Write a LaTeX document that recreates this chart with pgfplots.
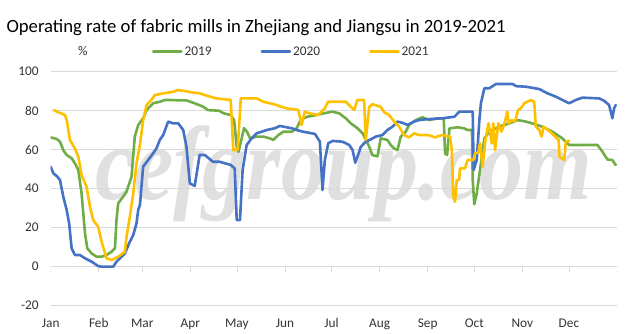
\documentclass[border=0pt]{standalone}
\usepackage{pgfplots}
\pgfplotsset{compat=1.18}
\usepackage{fontspec}
\setmainfont{Carlito}
\newfontfamily\wmfont{Liberation Serif}
\definecolor{c19}{HTML}{70AD47}
\definecolor{c20}{HTML}{4472C4}
\definecolor{c21}{HTML}{FFC000}
\definecolor{gridc}{HTML}{D9D9D9}
\definecolor{tickc}{HTML}{333333}
\definecolor{wm}{HTML}{E0E0E0}
\begin{document}
\begin{tikzpicture}[x=1pt,y=1pt]
\useasboundingbox (0,0) rectangle (643,334);
\node[anchor=base west, inner sep=0pt, text=wm] at (95,134) {\scalebox{0.84}[1]{\fontsize{105}{110}\selectfont\wmfont\bfseries\itshape cefgroup.com}};
\begin{axis}[
  at={(50.7pt,28.3pt)}, anchor=south west,
  scale only axis, width=566.3pt, height=234pt,
  xmin=0, xmax=365, ymin=-20, ymax=100,
  axis line style={draw=none},
  ytick={-20,0,20,40,60,80,100},
  ymajorgrids, grid style={gridc, line width=0.75pt},
  xtick={0,31,59,90,120,151,181,212,243,273,304,334},
  xticklabels={Jan,Feb,Mar,Apr,May,Jun,Jul,Aug,Sep,Oct,Nov,Dec},
  tick style={draw=none},
  xticklabel style={anchor=base, inner sep=0pt, yshift=-22.3pt},
  yticklabel style={anchor=east, inner sep=0pt, xshift=-11.8pt},
  ticklabel style={font=\fontsize{13.3}{15}\selectfont, text=tickc},
  /pgf/number format/assume math mode=true,
  legend columns=3,
  legend image code/.code={\draw[#1, line width=2.6pt] (0pt,0pt) -- (28pt,0pt);},
  legend style={at={(0.1789,1.0855)}, anchor=west, draw=none, fill=none,
    inner sep=0pt, outer sep=0pt, font=\fontsize{13.3}{15}\selectfont, text=tickc,
    /tikz/every odd column/.append style={column sep=2pt},
    /tikz/every even column/.append style={column sep=49pt},
    nodes={inner sep=0pt}},
  legend cell align=left,
  every axis plot/.append style={line width=2.6pt, line join=round, line cap=round},
]
\draw[gridc, line width=0.75pt] (axis cs:0,0) -- (axis cs:365,0);
\pgfplotsinvokeforeach{0,31,59,90,120,151,181,212,243,273,304,334}{
  \draw[gridc, line width=0.75pt] (axis cs:#1,0) -- ([yshift=-5pt]axis cs:#1,0);
}
\addplot[c19] coordinates {
(0,66.3) (3.9,65.5) (6,64.1) (8.1,59.8) (10.3,57.3) (13.5,55.6) (15.6,53) (17.8,49.6)
(19.9,37.6) (22.1,17.1) (23.6,9.4) (26.4,6.8) (29.6,5.1) (32.8,5.1) (36,6.0) (39.2,7.7)
(41.4,9.4) (42.4,23.9) (43.5,32.5) (46.7,35.9) (48.9,38.5) (51,43.6) (52.1,46.2) (54.2,66.7)
(56.4,72.6) (59.6,76.1) (61.8,80.3) (66,83.8) (70.3,84.6) (73.6,85.5) (76.8,85.5) (83.2,85.3)
(87.5,85.3) (92.8,83.8) (98.2,82.1) (101.4,80.3) (108.5,80) (111.7,78.6) (116,77.8) (118.2,75.2)
(119.9,61.5) (121,58.9) (123.1,65.8) (124.6,71) (126.5,69.2) (128.5,65.8) (132.8,66.7) (137.1,66.7)
(141.3,65.8) (143.5,65) (146.7,67.5) (149.9,69.2) (155.3,69.2) (158.5,71) (160.6,74.4) (162.8,76.1)
(166,77) (171.4,77.8) (175.7,78.6) (181.7,79.5) (186,78.6) (190.2,76.1) (193.4,73.5) (197.7,71)
(201,68.4) (203.1,65) (205.3,61.5) (207.4,57.2) (210.6,56.6) (212.7,65.8) (217,65) (219.2,62.4)
(221.4,60.6) (223.5,59.8) (225.6,66.7) (228.8,69.2) (231,72.7) (235.3,75.2) (239.6,76.6) (244,75.2)
(249.4,76.1) (253.3,76.1) (254.2,58.1) (255.5,57.3) (257,70.9) (262.3,71.5) (266.6,70.9) (268.7,70.1)
(271.5,70.1) (272,44.4) (273,32) (274.6,37.6) (277.3,53) (279.5,65.8) (282.7,69.2) (289.1,71.8)
(295.5,73.5) (300.9,75.2) (306.3,74.4) (310.5,73.5) (316.9,71.8) (323.4,69.2) (329.8,65.8) (334.2,62.4)
(345,62.4) (352.4,62.4) (355.6,59) (358.8,55) (362,54.7) (364.2,52.1)
};
\addlegendentry{2019}
\addplot[c20] coordinates {
(0,51.3) (1.7,47.9) (4.3,46.2) (6,44.4) (8.1,35.9) (10.3,29.1) (11.9,22.2) (13.5,9.4)
(15.6,6) (18.8,6) (22.1,4.3) (26.4,2.6) (30.6,0.3) (32.8,0) (40.3,0) (42.4,2.6)
(44.6,4.3) (47.8,6.8) (51,12.8) (53.2,16.2) (55.3,22.2) (56.4,29.1) (57.5,31.6) (59.6,51.3)
(62.8,54.7) (66,58.1) (68.2,60.7) (70.3,65) (72.5,67.5) (75.7,74.4) (78.9,73.5) (82.2,73.5)
(85.4,70.1) (87.5,61.5) (89.7,42.7) (92.8,41.4) (96,57.3) (99.3,57.3) (104.6,53.8) (108.9,53.8)
(116,52.2) (118.6,50.4) (119.9,23.9) (122,23.9) (123.7,49.6) (126.3,62.4) (129.5,65.8) (132.8,68.4)
(139.2,70.1) (144.5,71) (147.7,72.2) (152,71.5) (155.3,71) (158.5,70.1) (162.8,69.2) (170.3,68.1)
(173.5,64.1) (175.2,39.3) (176.7,54.7) (178.9,63.3) (181.7,64.5) (188.1,64.1) (192.4,62.4) (194.6,59.8)
(196.3,53.3) (197.7,56.4) (199.9,61.5) (203.1,64.1) (206.3,65.3) (209.5,66.7) (213.8,67.5) (217,70.1)
(220.3,71.8) (223.5,74.4) (226.7,73.8) (229.9,72.7) (234.2,74.4) (237.5,75.2) (241.9,75.6) (252.6,76.1)
(260.2,76.9) (263.4,79.5) (272,79.5) (272.6,49.6) (274.6,54.7) (276.3,75.2) (277.3,83.8) (279.5,91.5)
(282.7,91.5) (287,93.7) (297.7,93.7) (299.9,92.6) (306.3,92.3) (314.9,91.1) (320.2,88.9) (325.6,87.2)
(329.8,85.5) (334.2,83.8) (338.5,85.5) (342.7,86.7) (353.5,86.3) (356.7,85.1) (359.9,82.9) (362,76.1)
(363.1,81.2) (364.2,82.9)
};
\addlegendentry{2020}
\addplot[c21] coordinates {
(2.1,80.3) (4,79.5) (9.2,77.8) (10.3,75.2) (12.4,65) (15.6,60.7) (17.8,56.4) (19.9,47)
(23.1,41) (25.3,30.8) (27.4,23.9) (30.6,20.5) (32.8,12.8) (36,4.3) (39.2,3.4) (43.5,5.1)
(47.8,7.7) (48.9,15.4) (51,25.6) (53.2,37.6) (55.3,53) (57.5,62.4) (59.6,75.2) (61.8,82.9)
(64.9,85.5) (67.1,88) (72.5,88.9) (78.9,89.7) (82.2,90.6) (86.4,90.1) (90.7,89.4) (96,88.9)
(101.4,87.5) (106.8,86.3) (116,85.5) (117.7,59.8) (120.5,60) (122.5,86.3) (132.8,86.3) (137,84.6)
(143.5,83.4) (148.8,82) (152,81.2) (159.6,80.4) (161.7,72.7) (163.8,79.5) (167,78.6) (172.4,77.8)
(176.7,81.2) (178.8,84.6) (190.2,84.6) (193.4,82) (195.6,80.4) (197.7,85.5) (202,85.5) (203.1,65)
(205.3,82) (207.4,83.3) (212.7,82) (214.9,79.2) (218.1,77.8) (221.4,74.4) (224.6,71.8) (227.8,67.5)
(231,66.3) (234.2,68.4) (237.5,67.5) (243.4,67.5) (247.7,66.3) (252,67.5) (257.4,66.7) (258.5,59.8)
(259.5,35.9) (260.6,33.3) (261.7,44.4) (263.2,44.4) (263.8,50.4) (267,50.4) (268.7,54.7) (272.4,54.7)
(273.5,58.1) (275.6,58.5) (276.7,63.3) (278.4,51.3) (280.3,65.8) (282.2,73.5) (284.3,63.2) (285.3,73.5)
(286.4,59.8) (288.5,73.5) (290.6,69.2) (292.8,74.4) (294.3,79.5) (295.3,73.5) (297,75.2) (299.2,74.4)
(301.3,80.4) (303,81.2) (305.2,83.8) (309.5,85.5) (311.6,84.6) (312.7,71.8) (314.9,70.1) (316.4,66.7)
(317.7,71.8) (320,70.4) (322.4,68.9) (325.6,66.3) (327.4,65) (327.9,56.4) (331,54.7) (332,64.1)
(334.2,64.6)
};
\addlegendentry{2021}
\end{axis}
\node[anchor=base west, inner sep=0pt] at (6.3,301.3) {\fontsize{18.7}{22}\selectfont Operating rate of fabric mills in Zhejiang and Jiangsu in 2019-2021};
\node[anchor=base west, inner sep=0pt, text=tickc] at (78,278.3) {\fontsize{13.3}{15}\selectfont \%};
\end{tikzpicture}
\end{document}
